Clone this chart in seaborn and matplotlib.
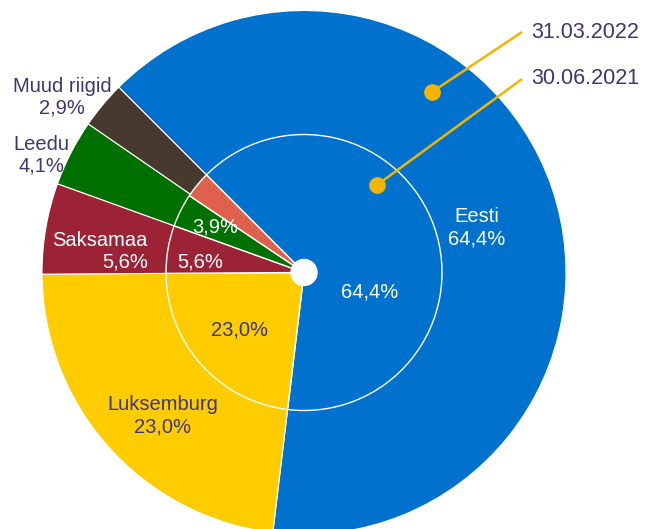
import numpy as np
import matplotlib
matplotlib.use("Agg")
import matplotlib.pyplot as plt
import seaborn as sns

# data
countries = ["Eesti", "Luksemburg", "Saksamaa", "Leedu", "Muud riigid"]
share_2022 = [64.4, 23.0, 5.6, 4.1, 2.9]   # outer ring, 31.03.2022
share_2021 = [64.4, 23.0, 5.6, 3.9, 3.1]   # inner disc, 30.06.2021
colors_2022 = ["#0072CE", "#FFCC00", "#9B2335", "#007000", "#47392D"]
colors_2021 = ["#0072CE", "#FFCC00", "#9B2335", "#007000", "#E0604E"]
date_labels = ["31.03.2022", "30.06.2021"]

sns.set_style("white")
plt.rcParams["font.family"] = ["Liberation Sans", "DejaVu Sans"]

NAVY = "#3C3775"
ACCENT = "#F5B400"

W, H = 648, 529
CX, CY, R = 304, 272.5, 262
R_IN = 138


def px(x, y):
    # pixel position -> data units (pie radius = 1)
    return (x - CX) / R, (CY - y) / R


def fmt(v):
    return f"{v:.1f}".replace(".", ",") + "%"


fig = plt.figure(figsize=(W / 100, H / 100), dpi=100)
ax = fig.add_axes([0, 0, 1, 1])

ax.pie(share_2022, colors=colors_2022, startangle=135, counterclock=False,
       radius=1.0, wedgeprops=dict(edgecolor="white", linewidth=0.8))
ax.pie(share_2021, colors=colors_2021, startangle=135, counterclock=False,
       radius=R_IN / R, wedgeprops=dict(edgecolor="white", linewidth=1.0))
ax.add_patch(plt.Circle((0, 0), 13 / R, color="white", zorder=5))

ax.set_xlim(-CX / R, (W - CX) / R)
ax.set_ylim(-(H - CY) / R, CY / R)
ax.set_aspect("equal", adjustable="datalim")
ax.axis("off")

fs = 14.5
# outer labels: (x, y, color, alignment)
outer_pos = [
    (477, 228, "white", "center"),
    (163, 416, NAVY, "center"),
    (148, 251, "white", "right"),
    (41, 155, NAVY, "center"),
    (62, 97, NAVY, "center"),
]
for name, val, (x, y, c, al) in zip(countries, share_2022, outer_pos):
    tx, ty = px(x, y)
    ax.text(tx, ty, f"{name}\n{fmt(val)}", color=c, fontsize=fs,
            ha=al, va="center", multialignment=al, linespacing=1.2, zorder=6)

inner_pos = [(370, 292, "white"), (240, 330, NAVY), (200, 262, "white"),
             (215, 227, "white")]
for val, (x, y, c) in zip(share_2021, inner_pos):
    tx, ty = px(x, y)
    ax.text(tx, ty, fmt(val), color=c, fontsize=fs, ha="center", va="center",
            zorder=6)

# date callouts
callouts = [((432, 92), (522, 32)), ((377, 185), (522, 79))]
for lab, (p0, p1) in zip(date_labels, callouts):
    x0, y0 = px(*p0)
    x1, y1 = px(*p1)
    ax.plot([x0, x1], [y0, y1], color=ACCENT, lw=1.8, zorder=7,
            solid_capstyle="butt")
    ax.plot([x0], [y0], "o", color=ACCENT, ms=11, zorder=7)
    ax.text(x1 + 9 / R, y1, lab, color=NAVY, fontsize=15.5,
            ha="left", va="center", zorder=7)

fig.savefig("out.png", dpi=100)
